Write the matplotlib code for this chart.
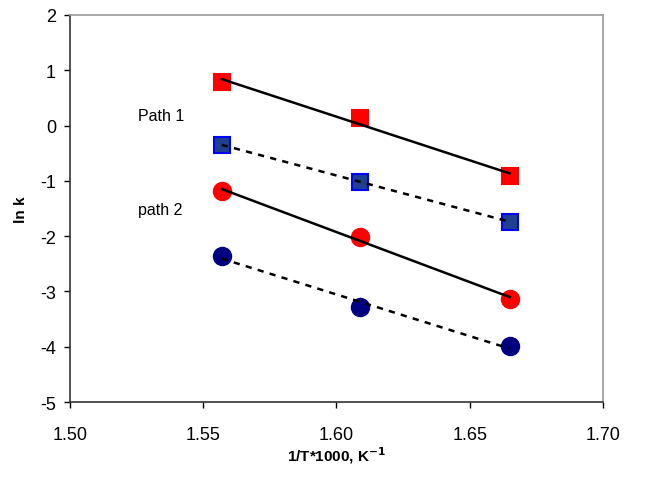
import numpy as np
import matplotlib.pyplot as plt

plt.rcParams['font.family'] = ['Liberation Sans', 'DejaVu Sans']
plt.rcParams['axes.unicode_minus'] = False

# 1/T*1000 values
inv_t = [1.557, 1.609, 1.665]

# ln k for each series
path1_a = [0.78, 0.13, -0.92]    # red squares
path1_b = [-0.35, -1.02, -1.74]  # blue squares
path2_a = [-1.19, -2.01, -3.14]  # red circles
path2_b = [-2.36, -3.28, -3.99]  # navy circles

series = [
    (path1_a, 's', '#ff0000', '#ff0000', '-'),
    (path1_b, 's', '#1f3f8f', '#0000ff', (0, (2.5, 2.5))),
    (path2_a, 'o', '#ff0000', '#ff0000', '-'),
    (path2_b, 'o', '#000080', '#000080', (0, (2.5, 2.5))),
]

fig, ax = plt.subplots(figsize=(6.47, 4.81), dpi=100)
fig.subplots_adjust(left=0.108, right=0.932, top=0.967, bottom=0.162)

x = np.array(inv_t)
for y, mk, fc, ec, ls in series:
    y = np.array(y)
    ax.plot(x, y, linestyle='none', marker=mk, markersize=12 if mk == 's' else 12.5,
            markerfacecolor=fc, markeredgecolor=ec, markeredgewidth=1.5, zorder=2)
    k, b = np.polyfit(x, y, 1)
    ax.plot(x, k * x + b, color='black', linestyle=ls, linewidth=1.8, zorder=3)

ax.text(1.5255, 0.18, 'Path 1', fontsize=11.5, va='center', ha='left')
ax.text(1.5255, -1.51, 'path 2', fontsize=11.5, va='center', ha='left')

ax.set_xlim(1.50, 1.70)
ax.set_ylim(-5, 2)
ax.set_xticks([1.50, 1.55, 1.60, 1.65, 1.70])
ax.set_xticklabels(['1.50', '1.55', '1.60', '1.65', '1.70'])
ax.set_yticks(range(-5, 3))
ax.tick_params(direction='out', length=4, width=1, labelsize=13, pad=6)
ax.tick_params(axis='x', pad=13)

for s in ['left', 'bottom']:
    ax.spines[s].set_color('#333333')
    ax.spines[s].set_linewidth(1.2)
for s in ['top', 'right']:
    ax.spines[s].set_color('#999999')
    ax.spines[s].set_linewidth(1.2)

ax.set_xlabel('1/T*1000, K$^{\\mathbf{-1}}$', fontsize=11, fontweight='bold', labelpad=1)
ax.set_ylabel('ln k', fontsize=11, fontweight='bold', labelpad=9)

fig.savefig('out.png', dpi=100)
